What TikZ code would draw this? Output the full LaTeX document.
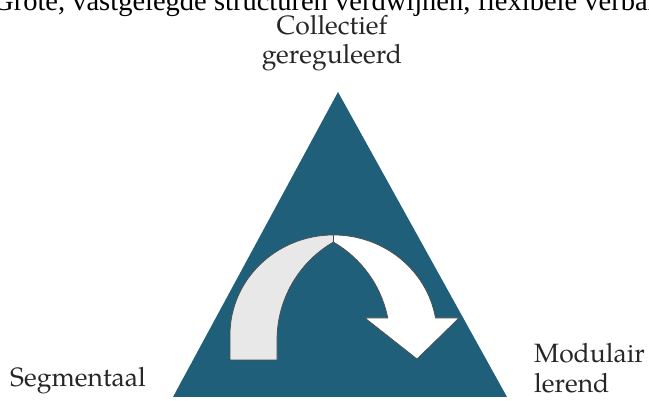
\documentclass[tikz,border=0pt]{standalone}
\usepackage{fontspec}
\setmainfont{Liberation Serif}
\newfontfamily\pal{TeX Gyre Pagella}
\definecolor{teal1}{HTML}{1F5F79}
\definecolor{arrgray}{HTML}{E8E8E8}
\definecolor{edge}{HTML}{4A4A4A}
\begin{document}
\begin{tikzpicture}[x=1pt,y=1pt,
  lbl/.style={font=\pal\fontsize{26.5}{30}\selectfont, inner sep=0pt, text=black!85},
  arrpart/.style={draw=edge, line width=0.7pt, line join=round}]
\useasboundingbox (0,0) rectangle (649,401);
\clip (0,0) rectangle (649,401);
% top clipped text
\node[anchor=base west, inner sep=0pt, font=\fontsize{28.5}{32}\selectfont] (title) at (-7,390) {Grote, vastgelegde structuren verdwijnen, flexibele verbanden};
% triangle
\coordinate (L) at (173,4);
\coordinate (R) at (507,4);
\coordinate (T) at (338,309);
\fill[teal1] (L) -- (R) -- (T) -- cycle;
% gray left part of arrow
\filldraw[arrpart, fill=arrgray] (230,41) -- (230,66)
  arc[start angle=180, end angle=90, x radius=103.5, y radius=100]
  -- (333.5,159)
  arc[start angle=120, end angle=180, radius=113]
  -- (277,41) -- cycle;
% white right part of arrow
\filldraw[arrpart, fill=white] (333.5,166)
  arc[start angle=90, end angle=9.8, x radius=103.5, y radius=100]
  -- (459,83) -- (417,42) -- (365,83) -- (387.8,83)
  arc[start angle=11.23, end angle=60, radius=113]
  -- cycle;
% labels
\node[lbl, anchor=base] (c1) at (332,366) {Collectief};
\node[lbl, anchor=base] (c2) at (332,337) {gereguleerd};
\node[lbl, anchor=base west] (seg) at (10,14) {Segmentaal};
\node[lbl, anchor=base west] (m1) at (534,38) {Modulair};
\node[lbl, anchor=base west] (m2) at (534,8) {lerend};
\end{tikzpicture}
\end{document}
